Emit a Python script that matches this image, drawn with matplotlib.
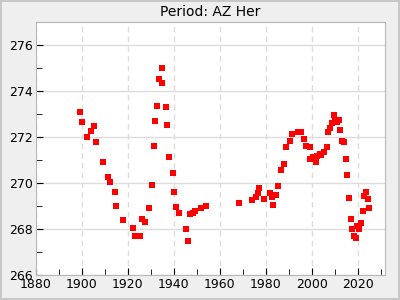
import numpy as np
import matplotlib
matplotlib.use("Agg")
import matplotlib.pyplot as plt
from matplotlib.ticker import MultipleLocator

years = [1899.4, 1900.3, 1902.5, 1904.2, 1905.5, 1906.4, 1909.4, 1911.6, 1912.5,
         1914.7, 1915.1, 1918.1, 1922.5, 1923.4, 1925.5, 1926.4, 1927.7, 1929.5,
         1930.8, 1931.6, 1932.1, 1932.9, 1933.8, 1934.8, 1935.1, 1936.9, 1937.3,
         1938.2, 1939.9, 1940.3, 1941.2, 1942.3, 1945.6, 1946.4, 1947.3, 1948.6,
         1949.5, 1951.7, 1954.3,
         1968.6, 1973.9, 1976.0, 1976.5, 1977.3, 1979.5, 1981.7, 1982.6, 1983.4,
         1984.7, 1985.6, 1986.9, 1987.8, 1988.7, 1990.4, 1991.3, 1993.9, 1995.6,
         1996.5, 1997.4, 1999.1, 1999.5, 2000.4, 2001.7, 2002.3, 2003.5, 2004.3,
         2005.6, 2006.5, 2007.0, 2007.8, 2008.7, 2009.6, 2010.0, 2010.9, 2011.7,
         2012.2, 2013.0, 2013.9, 2014.8, 2015.2, 2016.1, 2017.0, 2017.4, 2018.3,
         2019.2, 2019.6, 2020.4, 2021.3, 2022.2, 2022.6, 2023.5, 2024.4, 2024.8]
period = [273.09, 272.65, 272.00, 272.26, 272.48, 271.79, 270.92, 270.27, 270.06,
          269.62, 269.02, 268.37, 268.06, 267.68, 267.68, 268.45, 268.32, 268.93,
          269.93, 271.61, 272.70, 273.35, 274.52, 274.99, 274.34, 273.30, 272.52,
          271.14, 270.45, 269.62, 268.97, 268.71, 268.02, 267.50, 268.63, 268.71,
          268.76, 268.93, 269.02,
          269.15, 269.28, 269.41, 269.58, 269.80, 269.32, 269.58, 269.41, 269.06,
          269.49, 269.88, 270.57, 270.84, 271.57, 271.83, 272.13, 272.22, 272.22,
          271.92, 271.61, 271.57, 271.05, 271.14, 270.92, 271.18, 271.27, 271.22,
          271.35, 271.57, 272.22, 272.39, 272.61, 272.96, 272.70, 272.65, 272.74,
          272.31, 271.83, 271.79, 271.05, 270.35, 269.36, 268.45, 268.02, 267.68,
          267.63, 268.11, 267.98, 268.24, 268.80, 269.45, 269.62, 269.32, 268.89]

fig = plt.figure(figsize=(4, 3), dpi=100, facecolor="#efefef",
                 edgecolor="#c8c8c8", linewidth=1.5)
ax = fig.add_axes([0.089, 0.083, 0.874, 0.845])

ax.plot(years, period, "s", color="#ff0000", ms=4, mew=0)

ax.set_xlim(1880, 2032)
ax.set_ylim(266, 277)
ax.xaxis.set_major_locator(MultipleLocator(20))
ax.xaxis.set_minor_locator(MultipleLocator(10))
ax.yaxis.set_major_locator(MultipleLocator(2))
ax.yaxis.set_minor_locator(MultipleLocator(1))
ax.tick_params(which="both", direction="in", labelsize=9, pad=2,
               top=False, right=False, color="black")
ax.tick_params(which="major", length=5)
ax.tick_params(which="minor", length=4)
ax.grid(axis="y", color="#dddddd", lw=1, ls="-")
ax.grid(axis="x", color="#dddddd", lw=1, ls=(0, (4, 3)))
ax.set_axisbelow(True)
for s in ax.spines.values():
    s.set_color("#b8b8b8")

ax.set_title("Period: AZ Her", fontsize=10, pad=4)

fig.savefig("out.png", dpi=100, facecolor=fig.get_facecolor(),
            edgecolor=fig.get_edgecolor())
